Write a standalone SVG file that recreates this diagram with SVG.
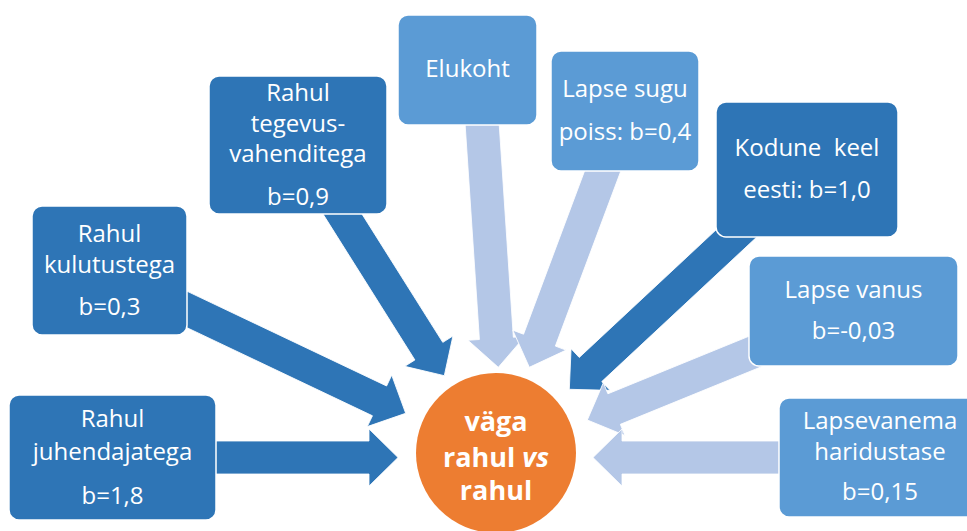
<svg xmlns="http://www.w3.org/2000/svg" width="967" height="531" viewBox="0 0 967 531">
<defs>
<style>
.dk{fill:#2E75B6}
.md{fill:#5B9BD5}
.box{stroke:#FFFFFF;stroke-width:1.5}
.ad{fill:#2E75B6;stroke:#FFFFFF;stroke-width:0.8}
.al{fill:#B4C7E7;stroke:#FFFFFF;stroke-width:0.8}
.t{font-family:"Open Sans","DejaVu Sans",sans-serif;font-size:24px;fill:#FFFFFF;text-anchor:middle}
.c{font-family:"Open Sans","DejaVu Sans",sans-serif;font-size:27px;font-weight:bold;fill:#FFFFFF;text-anchor:middle}
</style>
</defs>
<rect width="967" height="531" fill="#FFFFFF"/>
<g id="connectors">
<polygon class="ad" transform="translate(398,457.5) rotate(0)" points="0,0 -29,-28.5 -29,-16.5 -190,-16.5 -190,16.5 -29,16.5 -29,28.5"/>
<polygon class="ad" transform="translate(405.7,413.3) rotate(25.4)" points="0,0 -29,-28.5 -29,-16.5 -260,-16.5 -260,16.5 -29,16.5 -29,28.5"/>
<polygon class="ad" transform="translate(444.3,375.7) rotate(57.8)" points="0,0 -29,-28.5 -29,-16.5 -207,-16.5 -207,16.5 -29,16.5 -29,28.5"/>
<polygon class="al" transform="translate(498.3,367.3) rotate(86.2)" points="0,0 -29,-28.5 -29,-17 -258,-17 -258,17 -29,17 -29,28.5"/>
<polygon class="al" transform="translate(529.3,367.3) rotate(110.5)" points="0,0 -29,-28.5 -29,-17 -221,-17 -221,17 -29,17 -29,28.5"/>
<polygon class="ad" transform="translate(569.3,389.3) rotate(137)" points="0,0 -29,-28.5 -29,-16.5 -255,-16.5 -255,16.5 -29,16.5 -29,28.5"/>
<polygon class="al" transform="translate(587.3,420) rotate(157.8)" points="0,0 -29,-28.5 -29,-16.5 -200,-16.5 -200,16.5 -29,16.5 -29,28.5"/>
<polygon class="al" transform="translate(593,457.5) rotate(180)" points="0,0 -29,-28.5 -29,-16.5 -200,-16.5 -200,16.5 -29,16.5 -29,28.5"/>
</g>
<g id="n-juhendajatega">
<rect class="box dk" x="9" y="395" width="207" height="125" rx="10"/>
<text class="t" x="112.5" y="427">Rahul</text>
<text class="t" x="112.5" y="460">juhendajatega</text>
<text class="t" x="112.5" y="504">b=1,8</text>
</g>
<g id="n-kulutustega">
<rect class="box dk" x="32" y="206" width="155" height="129" rx="10"/>
<text class="t" x="109.5" y="242">Rahul</text>
<text class="t" x="109.5" y="273">kulutustega</text>
<text class="t" x="109.5" y="315">b=0,3</text>
</g>
<g id="n-tegevusvahenditega">
<rect class="box dk" x="209" y="76" width="178" height="138" rx="10"/>
<text class="t" x="298" y="101">Rahul</text>
<text class="t" x="298" y="132">tegevus-</text>
<text class="t" x="298" y="162">vahenditega</text>
<text class="t" x="298" y="205">b=0,9</text>
</g>
<g id="n-elukoht">
<rect class="box md" x="398" y="15" width="139" height="110" rx="10"/>
<text class="t" x="467.5" y="77">Elukoht</text>
</g>
<g id="n-lapsesugu">
<rect class="box md" x="551" y="51" width="148" height="120" rx="10"/>
<text class="t" x="625" y="97">Lapse sugu</text>
<text class="t" x="625" y="140">poiss: b=0,4</text>
</g>
<g id="n-kodunekeel">
<rect class="box dk" x="716" y="102" width="182" height="135" rx="10"/>
<text class="t" x="807" y="156" xml:space="preserve">Kodune  keel</text>
<text class="t" x="807" y="198">eesti: b=1,0</text>
</g>
<g id="n-lapsevanus">
<rect class="box md" x="749" y="256" width="209" height="110" rx="10"/>
<text class="t" x="853.5" y="298">Lapse vanus</text>
<text class="t" x="853.5" y="339">b=-0,03</text>
</g>
<g id="n-haridustase">
<rect class="box md" x="779" y="398" width="202" height="119" rx="10"/>
<text class="t" x="880" y="429">Lapsevanema</text>
<text class="t" x="880" y="460">haridustase</text>
<text class="t" x="880" y="500">b=0,15</text>
</g>
<g id="n-center">
<circle cx="496" cy="453" r="80" fill="#ED7D31"/>
<text class="c" x="496" y="431">väga</text>
<text class="c" x="496" y="467">rahul <tspan font-style="italic">vs</tspan></text>
<text class="c" x="496" y="500">rahul</text>
</g>
</svg>
